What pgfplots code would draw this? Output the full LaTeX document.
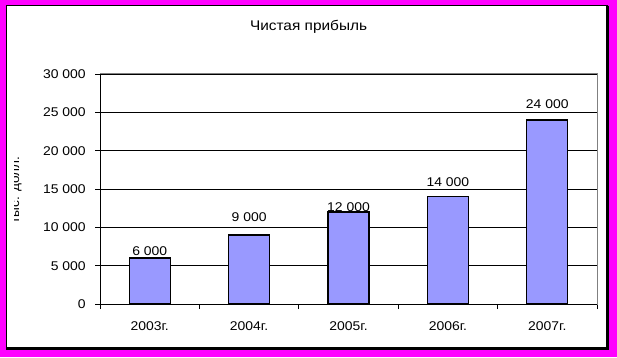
\documentclass[border=0pt]{standalone}
\usepackage{fontspec}
\setmainfont{Liberation Sans}[FakeStretch=1.1]
\usepackage{pgfplots}
\usepackage{pgfplotstable}
\pgfplotsset{compat=1.18}
\definecolor{barblue}{HTML}{9999FF}
\definecolor{frameM}{HTML}{FF00FF}
\pgfplotstableread{
x y off
0 6000 4.9
1 9000 13.5
2 12000 3.75
3 14000 10.7
4 24000 11.8
}\profit
\begin{document}
\begin{tikzpicture}
\useasboundingbox (0,0) rectangle (462.75pt,267.75pt);
\fill[frameM] (0,0) rectangle (462.75pt,267.75pt);
\fill[white] (4.5pt,6.75pt) rectangle (455.25pt,263.25pt);
\draw[black, line width=0.75pt] (4.5pt,6.75pt) rectangle (455.25pt,263.25pt);
\draw[black, line width=2.25pt] (455.6pt,263.6pt) -- (455.6pt,6.4pt) -- (4.2pt,6.4pt);
\node[font=\fontsize{10.5}{12}\selectfont] at (231.4pt,247.5pt) {Чистая прибыль};
\begin{scope}
\clip (11pt,0) rectangle (30pt,267.75pt);
\node[rotate=90, anchor=base, inner sep=0pt, font=\fontsize{9.3}{11}\selectfont] at (14.4pt,125.25pt) {тыс. долл.};
\end{scope}
\begin{axis}[
  scale only axis,
  width=372.75pt, height=172.5pt,
  at={(75pt,39.75pt)}, anchor=south west,
  xmin=-0.5, xmax=4.5, ymin=0, ymax=30000,
  enlarge x limits=false,
  xtick={-0.5,0.5,1.5,2.5,3.5,4.5},
  xticklabels={},
  extra x ticks={0,1,2,3,4},
  extra x tick labels={2003г.,2004г.,2005г.,2006г.,2007г.},
  extra x tick style={major tick length=0pt, grid=none},
  ytick={0,5000,10000,15000,20000,25000,30000},
  xtick pos=bottom, ytick pos=left,
  tick align=outside,
  major tick length=3.75pt,
  tick style={black, line width=0.6pt},
  ymajorgrids,
  grid style={black, line width=0.6pt},
  axis line style={draw=gray, line width=0.75pt},
  scaled y ticks=false,
  /pgf/number format/.cd, 1000 sep={\ }, assume math mode=true,
  /pgfplots/.cd,
  ticklabel style={font=\fontsize{9.5}{11}\selectfont},
  yticklabel style={xshift=-3.5pt},
  xticklabel style={yshift=-9.5pt},
]
\addplot[ybar, fill=barblue, draw=black, line width=0.9pt, bar width=30.75pt,
  point meta=y,
  nodes near coords={\pgfmathprintnumber{\pgfplotspointmeta}},
  visualization depends on={\thisrow{off} \as \myoff},
  every node near coord/.append style={anchor=center, yshift=\myoff pt, inner sep=0pt, font=\fontsize{9.5}{11}\selectfont, black, line width=0pt}
] table[x=x, y=y] {\profit};
\draw[black, line width=0.75pt] (rel axis cs:0,1) -- (rel axis cs:0,0) -- (rel axis cs:1,0);
\end{axis}
\end{tikzpicture}
\end{document}
